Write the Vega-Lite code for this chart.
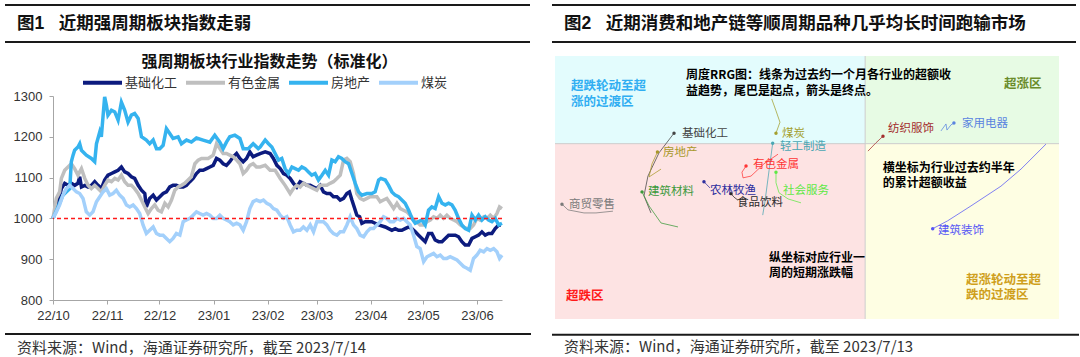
{
  "$schema": "https://vega.github.io/schema/vega-lite/v6.json",
  "background": "white",
  "padding": {"left": 4, "top": 4, "right": 0, "bottom": 0},
  "config": {"view": {"stroke": null}, "font": "Liberation Sans"},
  "resolve": {"scale": {"color": "independent"}, "legend": {"color": "independent"}},
  "datasets": {
    "idx": [
      {"s":"基础化工","d":0,"v":1000},{"s":"基础化工","d":2.9,"v":1037},{"s":"基础化工","d":4.8,"v":1073},{"s":"基础化工","d":6.7,"v":1086},{"s":"基础化工","d":8.6,"v":1081},{"s":"基础化工","d":10.5,"v":1086},{"s":"基础化工","d":12.4,"v":1081},{"s":"基础化工","d":14.3,"v":1086},{"s":"基础化工","d":15.3,"v":1102},{"s":"基础化工","d":16.3,"v":1077},{"s":"基础化工","d":18.2,"v":1081},{"s":"基础化工","d":20.1,"v":1077},{"s":"基础化工","d":22,"v":1081},{"s":"基础化工","d":23.9,"v":1090},{"s":"基础化工","d":25.8,"v":1081},{"s":"基础化工","d":27.7,"v":1073},{"s":"基础化工","d":29.6,"v":1094},{"s":"基础化工","d":31.5,"v":1106},{"s":"基础化工","d":33.5,"v":1110},{"s":"基础化工","d":35.4,"v":1114},{"s":"基础化工","d":37.3,"v":1118},{"s":"基础化工","d":39.2,"v":1126},{"s":"基础化工","d":41.1,"v":1114},{"s":"基础化工","d":43,"v":1110},{"s":"基础化工","d":44.9,"v":1102},{"s":"基础化工","d":46.8,"v":1098},{"s":"基础化工","d":48.8,"v":1081},{"s":"基础化工","d":50.7,"v":1069},{"s":"基础化工","d":52.6,"v":1061},{"s":"基础化工","d":53.5,"v":1028},{"s":"基础化工","d":55.4,"v":1049},{"s":"基础化工","d":57.4,"v":1057},{"s":"基础化工","d":59.3,"v":1045},{"s":"基础化工","d":61.2,"v":1053},{"s":"基础化工","d":63.1,"v":1061},{"s":"基础化工","d":65,"v":1065},{"s":"基础化工","d":66.9,"v":1077},{"s":"基础化工","d":68.8,"v":1081},{"s":"基础化工","d":70.7,"v":1081},{"s":"基础化工","d":72.7,"v":1077},{"s":"基础化工","d":74.6,"v":1077},{"s":"基础化工","d":76.5,"v":1081},{"s":"基础化工","d":78.4,"v":1090},{"s":"基础化工","d":80.3,"v":1098},{"s":"基础化工","d":82.2,"v":1110},{"s":"基础化工","d":84.1,"v":1118},{"s":"基础化工","d":86,"v":1118},{"s":"基础化工","d":88,"v":1122},{"s":"基础化工","d":89.9,"v":1126},{"s":"基础化工","d":91.8,"v":1130},{"s":"基础化工","d":93.7,"v":1147},{"s":"基础化工","d":95.6,"v":1143},{"s":"基础化工","d":97.5,"v":1134},{"s":"基础化工","d":99.4,"v":1130},{"s":"基础化工","d":101.3,"v":1139},{"s":"基础化工","d":103.3,"v":1151},{"s":"基础化工","d":105.2,"v":1159},{"s":"基础化工","d":107.1,"v":1147},{"s":"基础化工","d":109,"v":1139},{"s":"基础化工","d":110.9,"v":1147},{"s":"基础化工","d":112.8,"v":1163},{"s":"基础化工","d":114.7,"v":1151},{"s":"基础化工","d":116.6,"v":1155},{"s":"基础化工","d":118.7,"v":1159},{"s":"基础化工","d":121.6,"v":1163},{"s":"基础化工","d":124.4,"v":1159},{"s":"基础化工","d":126.3,"v":1147},{"s":"基础化工","d":128.3,"v":1130},{"s":"基础化工","d":130.2,"v":1122},{"s":"基础化工","d":132.1,"v":1110},{"s":"基础化工","d":134,"v":1106},{"s":"基础化工","d":135.9,"v":1098},{"s":"基础化工","d":137.8,"v":1086},{"s":"基础化工","d":139.7,"v":1077},{"s":"基础化工","d":141.6,"v":1090},{"s":"基础化工","d":143.5,"v":1086},{"s":"基础化工","d":145.5,"v":1081},{"s":"基础化工","d":147.4,"v":1081},{"s":"基础化工","d":149.3,"v":1077},{"s":"基础化工","d":151.2,"v":1073},{"s":"基础化工","d":153.1,"v":1081},{"s":"基础化工","d":155,"v":1065},{"s":"基础化工","d":156.9,"v":1061},{"s":"基础化工","d":158.8,"v":1061},{"s":"基础化工","d":160.7,"v":1053},{"s":"基础化工","d":162.7,"v":1053},{"s":"基础化工","d":164.6,"v":1045},{"s":"基础化工","d":166.5,"v":1049},{"s":"基础化工","d":168.4,"v":1061},{"s":"基础化工","d":169.9,"v":1065},{"s":"基础化工","d":171.3,"v":1045},{"s":"基础化工","d":172.6,"v":1028},{"s":"基础化工","d":174.1,"v":1008},{"s":"基础化工","d":175.7,"v":1004},{"s":"基础化工","d":177,"v":988},{"s":"基础化工","d":178.9,"v":992},{"s":"基础化工","d":180.8,"v":992},{"s":"基础化工","d":182.7,"v":992},{"s":"基础化工","d":184.6,"v":988},{"s":"基础化工","d":186.6,"v":984},{"s":"基础化工","d":190.4,"v":979},{"s":"基础化工","d":192.3,"v":975},{"s":"基础化工","d":194.2,"v":971},{"s":"基础化工","d":196.1,"v":975},{"s":"基础化工","d":198,"v":971},{"s":"基础化工","d":199.9,"v":971},{"s":"基础化工","d":201.8,"v":975},{"s":"基础化工","d":203.8,"v":979},{"s":"基础化工","d":205.7,"v":975},{"s":"基础化工","d":207.6,"v":967},{"s":"基础化工","d":209.5,"v":959},{"s":"基础化工","d":211.4,"v":951},{"s":"基础化工","d":213.3,"v":943},{"s":"基础化工","d":215.2,"v":963},{"s":"基础化工","d":217.1,"v":963},{"s":"基础化工","d":219,"v":947},{"s":"基础化工","d":221,"v":943},{"s":"基础化工","d":222.9,"v":943},{"s":"基础化工","d":224.8,"v":951},{"s":"基础化工","d":226.7,"v":959},{"s":"基础化工","d":228.6,"v":959},{"s":"基础化工","d":230.5,"v":959},{"s":"基础化工","d":232.4,"v":955},{"s":"基础化工","d":234.3,"v":943},{"s":"基础化工","d":236.2,"v":935},{"s":"基础化工","d":238.2,"v":935},{"s":"基础化工","d":240.1,"v":951},{"s":"基础化工","d":242,"v":955},{"s":"基础化工","d":243.9,"v":959},{"s":"基础化工","d":245.8,"v":967},{"s":"基础化工","d":247.7,"v":959},{"s":"基础化工","d":249.6,"v":963},{"s":"基础化工","d":251.5,"v":963},{"s":"基础化工","d":253.4,"v":975},{"s":"基础化工","d":255.4,"v":984},{"s":"基础化工","d":256.7,"v":984},
      {"s":"有色金属","d":0,"v":1000},{"s":"有色金属","d":1.9,"v":1049},{"s":"有色金属","d":3.8,"v":1065},{"s":"有色金属","d":4.8,"v":1098},{"s":"有色金属","d":6.7,"v":1118},{"s":"有色金属","d":8.6,"v":1126},{"s":"有色金属","d":10.5,"v":1134},{"s":"有色金属","d":12.4,"v":1122},{"s":"有色金属","d":14.3,"v":1106},{"s":"有色金属","d":16.3,"v":1122},{"s":"有色金属","d":18.2,"v":1098},{"s":"有色金属","d":20.1,"v":1081},{"s":"有色金属","d":22,"v":1073},{"s":"有色金属","d":23.9,"v":1081},{"s":"有色金属","d":25.8,"v":1073},{"s":"有色金属","d":27.7,"v":1065},{"s":"有色金属","d":29.6,"v":1081},{"s":"有色金属","d":31.5,"v":1094},{"s":"有色金属","d":33.5,"v":1090},{"s":"有色金属","d":35.4,"v":1098},{"s":"有色金属","d":37.3,"v":1094},{"s":"有色金属","d":39.2,"v":1106},{"s":"有色金属","d":41.1,"v":1090},{"s":"有色金属","d":43,"v":1081},{"s":"有色金属","d":44.9,"v":1081},{"s":"有色金属","d":46.8,"v":1073},{"s":"有色金属","d":48.8,"v":1061},{"s":"有色金属","d":50.7,"v":1045},{"s":"有色金属","d":52.6,"v":1028},{"s":"有色金属","d":54.5,"v":1012},{"s":"有色金属","d":56.4,"v":1024},{"s":"有色金属","d":58.3,"v":1033},{"s":"有色金属","d":60.2,"v":1020},{"s":"有色金属","d":62.1,"v":1016},{"s":"有色金属","d":64.1,"v":1037},{"s":"有色金属","d":66,"v":1028},{"s":"有色金属","d":67.9,"v":1045},{"s":"有色金属","d":69.8,"v":1069},{"s":"有色金属","d":71.7,"v":1077},{"s":"有色金属","d":73.6,"v":1081},{"s":"有色金属","d":75.5,"v":1086},{"s":"有色金属","d":77.4,"v":1094},{"s":"有色金属","d":79.3,"v":1102},{"s":"有色金属","d":81.3,"v":1134},{"s":"有色金属","d":83.2,"v":1143},{"s":"有色金属","d":85.1,"v":1147},{"s":"有色金属","d":87,"v":1147},{"s":"有色金属","d":88.9,"v":1147},{"s":"有色金属","d":91.8,"v":1155},{"s":"有色金属","d":93.7,"v":1183},{"s":"有色金属","d":95.6,"v":1171},{"s":"有色金属","d":97.5,"v":1159},{"s":"有色金属","d":99.4,"v":1159},{"s":"有色金属","d":101.3,"v":1155},{"s":"有色金属","d":103.3,"v":1151},{"s":"有色金属","d":105.2,"v":1143},{"s":"有色金属","d":107.1,"v":1134},{"s":"有色金属","d":109,"v":1110},{"s":"有色金属","d":110.9,"v":1118},{"s":"有色金属","d":112.8,"v":1130},{"s":"有色金属","d":114.7,"v":1134},{"s":"有色金属","d":116.6,"v":1126},{"s":"有色金属","d":118.7,"v":1126},{"s":"有色金属","d":121.6,"v":1130},{"s":"有色金属","d":124.4,"v":1118},{"s":"有色金属","d":127.3,"v":1118},{"s":"有色金属","d":130.2,"v":1098},{"s":"有色金属","d":133,"v":1081},{"s":"有色金属","d":135.9,"v":1061},{"s":"有色金属","d":137.8,"v":1073},{"s":"有色金属","d":139.7,"v":1081},{"s":"有色金属","d":141.6,"v":1077},{"s":"有色金属","d":143.5,"v":1086},{"s":"有色金属","d":145.5,"v":1081},{"s":"有色金属","d":147.4,"v":1077},{"s":"有色金属","d":149.3,"v":1073},{"s":"有色金属","d":151.2,"v":1069},{"s":"有色金属","d":153.1,"v":1081},{"s":"有色金属","d":155,"v":1081},{"s":"有色金属","d":156.9,"v":1081},{"s":"有色金属","d":158.8,"v":1086},{"s":"有色金属","d":160.7,"v":1090},{"s":"有色金属","d":162.7,"v":1098},{"s":"有色金属","d":164.6,"v":1106},{"s":"有色金属","d":166.5,"v":1143},{"s":"有色金属","d":168.4,"v":1147},{"s":"有色金属","d":170.3,"v":1139},{"s":"有色金属","d":172.2,"v":1110},{"s":"有色金属","d":174.1,"v":1061},{"s":"有色金属","d":176,"v":1049},{"s":"有色金属","d":178,"v":1045},{"s":"有色金属","d":179.9,"v":1049},{"s":"有色金属","d":181.8,"v":1053},{"s":"有色金属","d":183.7,"v":1053},{"s":"有色金属","d":185.6,"v":1053},{"s":"有色金属","d":187.5,"v":1041},{"s":"有色金属","d":189.4,"v":1045},{"s":"有色金属","d":191.3,"v":1049},{"s":"有色金属","d":193.2,"v":1037},{"s":"有色金属","d":195.2,"v":1024},{"s":"有色金属","d":197.1,"v":1037},{"s":"有色金属","d":199,"v":1024},{"s":"有色金属","d":200.9,"v":1020},{"s":"有色金属","d":202.8,"v":1016},{"s":"有色金属","d":204.7,"v":1008},{"s":"有色金属","d":206.6,"v":996},{"s":"有色金属","d":208.5,"v":992},{"s":"有色金属","d":210.4,"v":984},{"s":"有色金属","d":212.4,"v":984},{"s":"有色金属","d":214.3,"v":992},{"s":"有色金属","d":216.2,"v":996},{"s":"有色金属","d":218.1,"v":1004},{"s":"有色金属","d":220,"v":1000},{"s":"有色金属","d":221.9,"v":1008},{"s":"有色金属","d":223.8,"v":1000},{"s":"有色金属","d":225.7,"v":1008},{"s":"有色金属","d":227.6,"v":1000},{"s":"有色金属","d":229.6,"v":996},{"s":"有色金属","d":231.5,"v":992},{"s":"有色金属","d":233.4,"v":984},{"s":"有色金属","d":235.3,"v":979},{"s":"有色金属","d":237.2,"v":975},{"s":"有色金属","d":239.1,"v":975},{"s":"有色金属","d":241,"v":984},{"s":"有色金属","d":242.9,"v":1000},{"s":"有色金属","d":244.8,"v":996},{"s":"有色金属","d":246.8,"v":1004},{"s":"有色金属","d":248.7,"v":1000},{"s":"有色金属","d":250.6,"v":1008},{"s":"有色金属","d":252.5,"v":1000},{"s":"有色金属","d":254.4,"v":1012},{"s":"有色金属","d":255.9,"v":1028},{"s":"有色金属","d":257.3,"v":1024},
      {"s":"房地产","d":0,"v":1000},{"s":"房地产","d":2.9,"v":1028},{"s":"房地产","d":5.7,"v":1057},{"s":"房地产","d":7.6,"v":1065},{"s":"房地产","d":9.6,"v":1073},{"s":"房地产","d":10.5,"v":1139},{"s":"房地产","d":11.5,"v":1155},{"s":"房地产","d":12.4,"v":1167},{"s":"房地产","d":14.3,"v":1175},{"s":"房地产","d":15.3,"v":1183},{"s":"房地产","d":16.3,"v":1167},{"s":"房地产","d":19.1,"v":1155},{"s":"房地产","d":22,"v":1147},{"s":"房地产","d":23.9,"v":1139},{"s":"房地产","d":24.9,"v":1183},{"s":"房地产","d":26.8,"v":1212},{"s":"房地产","d":27.7,"v":1200},{"s":"房地产","d":29.6,"v":1298},{"s":"房地产","d":30.6,"v":1277},{"s":"房地产","d":31.5,"v":1253},{"s":"房地产","d":33.5,"v":1265},{"s":"房地产","d":35.4,"v":1261},{"s":"房地产","d":37.3,"v":1241},{"s":"房地产","d":39.2,"v":1285},{"s":"房地产","d":41.1,"v":1265},{"s":"房地产","d":43,"v":1236},{"s":"房地产","d":44.9,"v":1253},{"s":"房地产","d":46.8,"v":1257},{"s":"房地产","d":48.8,"v":1245},{"s":"房地产","d":50.7,"v":1200},{"s":"房地产","d":53.5,"v":1192},{"s":"房地产","d":55.4,"v":1183},{"s":"房地产","d":57.4,"v":1192},{"s":"房地产","d":59.3,"v":1171},{"s":"房地产","d":61.2,"v":1171},{"s":"房地产","d":63.1,"v":1179},{"s":"房地产","d":65,"v":1220},{"s":"房地产","d":66.9,"v":1208},{"s":"房地产","d":68.8,"v":1196},{"s":"房地产","d":71.7,"v":1200},{"s":"房地产","d":73.6,"v":1183},{"s":"房地产","d":76.5,"v":1192},{"s":"房地产","d":79.3,"v":1187},{"s":"房地产","d":82.2,"v":1197},{"s":"房地产","d":86,"v":1192},{"s":"房地产","d":89.9,"v":1187},{"s":"房地产","d":92.7,"v":1204},{"s":"房地产","d":95.6,"v":1187},{"s":"房地产","d":97.5,"v":1171},{"s":"房地产","d":99.4,"v":1187},{"s":"房地产","d":101.3,"v":1200},{"s":"房地产","d":104.2,"v":1204},{"s":"房地产","d":107.1,"v":1196},{"s":"房地产","d":109,"v":1171},{"s":"房地产","d":111.9,"v":1171},{"s":"房地产","d":114.7,"v":1183},{"s":"房地产","d":117.6,"v":1171},{"s":"房地产","d":118.7,"v":1175},{"s":"房地产","d":121.6,"v":1192},{"s":"房地产","d":123.5,"v":1183},{"s":"房地产","d":125.4,"v":1175},{"s":"房地产","d":127.3,"v":1159},{"s":"房地产","d":129.2,"v":1143},{"s":"房地产","d":131.1,"v":1147},{"s":"房地产","d":133,"v":1122},{"s":"房地产","d":134.9,"v":1110},{"s":"房地产","d":136.9,"v":1126},{"s":"房地产","d":138.8,"v":1122},{"s":"房地产","d":140.7,"v":1118},{"s":"房地产","d":142.6,"v":1126},{"s":"房地产","d":144.5,"v":1122},{"s":"房地产","d":146.4,"v":1114},{"s":"房地产","d":148.3,"v":1106},{"s":"房地产","d":150.2,"v":1110},{"s":"房地产","d":152.1,"v":1094},{"s":"房地产","d":154.1,"v":1106},{"s":"房地产","d":156,"v":1118},{"s":"房地产","d":157.9,"v":1106},{"s":"房地产","d":159.8,"v":1143},{"s":"房地产","d":161.7,"v":1139},{"s":"房地产","d":163.6,"v":1151},{"s":"房地产","d":165.5,"v":1147},{"s":"房地产","d":167.4,"v":1139},{"s":"房地产","d":169.4,"v":1134},{"s":"房地产","d":171.3,"v":1110},{"s":"房地产","d":173.2,"v":1086},{"s":"房地产","d":175.1,"v":1065},{"s":"房地产","d":177,"v":1057},{"s":"房地产","d":179.9,"v":1061},{"s":"房地产","d":182.7,"v":1061},{"s":"房地产","d":184.6,"v":1065},{"s":"房地产","d":186.6,"v":1094},{"s":"房地产","d":187.9,"v":1098},{"s":"房地产","d":190.4,"v":1094},{"s":"房地产","d":192.3,"v":1081},{"s":"房地产","d":194.2,"v":1065},{"s":"房地产","d":196.1,"v":1057},{"s":"房地产","d":198,"v":1053},{"s":"房地产","d":199.9,"v":1045},{"s":"房地产","d":201.8,"v":1037},{"s":"房地产","d":203.8,"v":1020},{"s":"房地产","d":205.7,"v":1000},{"s":"房地产","d":207.6,"v":988},{"s":"房地产","d":209.5,"v":992},{"s":"房地产","d":211.4,"v":996},{"s":"房地产","d":213.3,"v":984},{"s":"房地产","d":215.2,"v":1020},{"s":"房地产","d":217.1,"v":1028},{"s":"房地产","d":219,"v":1024},{"s":"房地产","d":221,"v":1053},{"s":"房地产","d":222.9,"v":1037},{"s":"房地产","d":224.8,"v":1033},{"s":"房地产","d":226.7,"v":1037},{"s":"房地产","d":228.6,"v":1033},{"s":"房地产","d":230.5,"v":1020},{"s":"房地产","d":232.4,"v":1000},{"s":"房地产","d":234.3,"v":984},{"s":"房地产","d":236.2,"v":975},{"s":"房地产","d":238.2,"v":971},{"s":"房地产","d":240.1,"v":1008},{"s":"房地产","d":242,"v":996},{"s":"房地产","d":243.9,"v":1008},{"s":"房地产","d":245.8,"v":996},{"s":"房地产","d":247.7,"v":1004},{"s":"房地产","d":249.6,"v":996},{"s":"房地产","d":251.5,"v":992},{"s":"房地产","d":253.4,"v":1000},{"s":"房地产","d":255.4,"v":984},{"s":"房地产","d":257.3,"v":988},
      {"s":"煤炭","d":0,"v":1000},{"s":"煤炭","d":1.9,"v":1016},{"s":"煤炭","d":3.8,"v":1033},{"s":"煤炭","d":5.7,"v":1057},{"s":"煤炭","d":7.6,"v":1073},{"s":"煤炭","d":9.6,"v":1081},{"s":"煤炭","d":11.5,"v":1073},{"s":"煤炭","d":13.4,"v":1065},{"s":"煤炭","d":15.3,"v":1061},{"s":"煤炭","d":17.2,"v":1049},{"s":"煤炭","d":19.1,"v":1016},{"s":"煤炭","d":21,"v":1008},{"s":"煤炭","d":22.9,"v":1016},{"s":"煤炭","d":24.9,"v":1041},{"s":"煤炭","d":26.8,"v":1053},{"s":"煤炭","d":28.7,"v":1065},{"s":"煤炭","d":30.6,"v":1073},{"s":"煤炭","d":32.5,"v":1057},{"s":"煤炭","d":34.4,"v":1061},{"s":"煤炭","d":36.3,"v":1069},{"s":"煤炭","d":38.2,"v":1057},{"s":"煤炭","d":40.2,"v":1049},{"s":"煤炭","d":42.1,"v":1033},{"s":"煤炭","d":44,"v":1028},{"s":"煤炭","d":45.9,"v":1033},{"s":"煤炭","d":47.8,"v":1024},{"s":"煤炭","d":49.7,"v":1012},{"s":"煤炭","d":51.6,"v":984},{"s":"煤炭","d":53.5,"v":963},{"s":"煤炭","d":55.4,"v":971},{"s":"煤炭","d":57.4,"v":979},{"s":"煤炭","d":59.3,"v":963},{"s":"煤炭","d":61.2,"v":959},{"s":"煤炭","d":63.1,"v":959},{"s":"煤炭","d":65,"v":951},{"s":"煤炭","d":66.9,"v":943},{"s":"煤炭","d":68.8,"v":951},{"s":"煤炭","d":70.7,"v":963},{"s":"煤炭","d":72.7,"v":959},{"s":"煤炭","d":74.6,"v":992},{"s":"煤炭","d":76.5,"v":996},{"s":"煤炭","d":78.4,"v":1000},{"s":"煤炭","d":80.3,"v":1008},{"s":"煤炭","d":82.2,"v":1016},{"s":"煤炭","d":84.1,"v":1012},{"s":"煤炭","d":86,"v":1008},{"s":"煤炭","d":88,"v":1012},{"s":"煤炭","d":89.9,"v":1008},{"s":"煤炭","d":91.8,"v":1000},{"s":"煤炭","d":93.7,"v":1000},{"s":"煤炭","d":95.6,"v":1008},{"s":"煤炭","d":97.5,"v":1000},{"s":"煤炭","d":99.4,"v":996},{"s":"煤炭","d":101.3,"v":992},{"s":"煤炭","d":103.3,"v":984},{"s":"煤炭","d":105.2,"v":988},{"s":"煤炭","d":107.1,"v":984},{"s":"煤炭","d":109,"v":971},{"s":"煤炭","d":110.9,"v":992},{"s":"煤炭","d":112.8,"v":1024},{"s":"煤炭","d":114.7,"v":1041},{"s":"煤炭","d":116.6,"v":1045},{"s":"煤炭","d":118.7,"v":1041},{"s":"煤炭","d":120.6,"v":1045},{"s":"煤炭","d":122.5,"v":1037},{"s":"煤炭","d":124.4,"v":1033},{"s":"煤炭","d":126.3,"v":1024},{"s":"煤炭","d":128.3,"v":1020},{"s":"煤炭","d":130.2,"v":1008},{"s":"煤炭","d":132.1,"v":1000},{"s":"煤炭","d":134,"v":1004},{"s":"煤炭","d":135.9,"v":984},{"s":"煤炭","d":137.8,"v":967},{"s":"煤炭","d":139.7,"v":971},{"s":"煤炭","d":141.6,"v":971},{"s":"煤炭","d":143.5,"v":979},{"s":"煤炭","d":145.5,"v":971},{"s":"煤炭","d":147.4,"v":984},{"s":"煤炭","d":149.3,"v":967},{"s":"煤炭","d":151.2,"v":992},{"s":"煤炭","d":153.1,"v":992},{"s":"煤炭","d":155,"v":992},{"s":"煤炭","d":156.9,"v":984},{"s":"煤炭","d":158.8,"v":971},{"s":"煤炭","d":160.7,"v":963},{"s":"煤炭","d":162.7,"v":959},{"s":"煤炭","d":164.6,"v":967},{"s":"煤炭","d":166.5,"v":967},{"s":"煤炭","d":168.4,"v":984},{"s":"煤炭","d":170.3,"v":1004},{"s":"煤炭","d":172.2,"v":984},{"s":"煤炭","d":174.1,"v":975},{"s":"煤炭","d":176,"v":959},{"s":"煤炭","d":178,"v":955},{"s":"煤炭","d":179.9,"v":967},{"s":"煤炭","d":181.8,"v":975},{"s":"煤炭","d":183.7,"v":975},{"s":"煤炭","d":185.6,"v":984},{"s":"煤炭","d":187.5,"v":992},{"s":"煤炭","d":189.4,"v":1004},{"s":"煤炭","d":191.3,"v":1000},{"s":"煤炭","d":193.2,"v":992},{"s":"煤炭","d":195.2,"v":992},{"s":"煤炭","d":197.1,"v":1000},{"s":"煤炭","d":199,"v":996},{"s":"煤炭","d":200.9,"v":1000},{"s":"煤炭","d":202.8,"v":992},{"s":"煤炭","d":204.7,"v":984},{"s":"煤炭","d":206.6,"v":959},{"s":"煤炭","d":208.5,"v":931},{"s":"煤炭","d":210.4,"v":926},{"s":"煤炭","d":212.4,"v":894},{"s":"煤炭","d":214.3,"v":906},{"s":"煤炭","d":216.2,"v":910},{"s":"煤炭","d":218.1,"v":914},{"s":"煤炭","d":220,"v":906},{"s":"煤炭","d":221.9,"v":910},{"s":"煤炭","d":223.8,"v":902},{"s":"煤炭","d":225.7,"v":902},{"s":"煤炭","d":227.6,"v":906},{"s":"煤炭","d":229.6,"v":902},{"s":"煤炭","d":231.5,"v":898},{"s":"煤炭","d":233.4,"v":890},{"s":"煤炭","d":235.3,"v":882},{"s":"煤炭","d":237.2,"v":878},{"s":"煤炭","d":239.1,"v":873},{"s":"煤炭","d":241,"v":902},{"s":"煤炭","d":242.9,"v":910},{"s":"煤炭","d":244.8,"v":922},{"s":"煤炭","d":246.8,"v":918},{"s":"煤炭","d":248.7,"v":926},{"s":"煤炭","d":250.6,"v":922},{"s":"煤炭","d":252.5,"v":926},{"s":"煤炭","d":254.4,"v":918},{"s":"煤炭","d":255.9,"v":902},{"s":"煤炭","d":257.3,"v":910}
    ],
    "tails": [
      {"ind":"基础化工","k":1,"x":-22.1,"y":-1.58},{"ind":"基础化工","k":2,"x":-22.82,"y":-1.19},{"ind":"基础化工","k":3,"x":-22.41,"y":-0.74},{"ind":"基础化工","k":4,"x":-21.27,"y":-0.21},{"ind":"基础化工","k":5,"x":-19.72,"y":0.24},
      {"ind":"房地产","k":1,"x":-21.06,"y":-0.58},{"ind":"房地产","k":2,"x":-22.3,"y":-0.76},{"ind":"房地产","k":3,"x":-21.99,"y":-0.46},{"ind":"房地产","k":4,"x":-21.43,"y":-0.19},
      {"ind":"建筑材料","k":1,"x":-19.31,"y":-1.9},{"ind":"建筑材料","k":2,"x":-21.06,"y":-1.81},{"ind":"建筑材料","k":3,"x":-22.3,"y":-1.42},{"ind":"建筑材料","k":4,"x":-23.02,"y":-1.1},
      {"ind":"商贸零售","k":1,"x":-26.02,"y":-1.54},{"ind":"商贸零售","k":2,"x":-27.77,"y":-1.58},{"ind":"商贸零售","k":3,"x":-29.01,"y":-1.58},{"ind":"商贸零售","k":4,"x":-30.66,"y":-1.51},{"ind":"商贸零售","k":5,"x":-31.28,"y":-1.38},
      {"ind":"农林牧渔","k":1,"x":-16.01,"y":-1.01},{"ind":"农林牧渔","k":2,"x":-16.32,"y":-0.94},{"ind":"农林牧渔","k":3,"x":-16.63,"y":-0.87},
      {"ind":"食品饮料","k":1,"x":-13.12,"y":-1.29},{"ind":"食品饮料","k":2,"x":-13.53,"y":-1.22},{"ind":"食品饮料","k":3,"x":-13.84,"y":-1.14},
      {"ind":"轻工制造","k":1,"x":-10.57,"y":-1.63},{"ind":"轻工制造","k":2,"x":-10.33,"y":-1.31},{"ind":"轻工制造","k":3,"x":-9.92,"y":-0.62},{"ind":"轻工制造","k":4,"x":-9.54,"y":0.01},
      {"ind":"煤炭","k":1,"x":-9.64,"y":1.02},{"ind":"煤炭","k":2,"x":-9.2,"y":0.75},{"ind":"煤炭","k":3,"x":-8.79,"y":0.49},{"ind":"煤炭","k":4,"x":-9.2,"y":0.24},
      {"ind":"有色金属","k":1,"x":-8.99,"y":-0.24},{"ind":"有色金属","k":2,"x":-10.44,"y":-0.46},{"ind":"有色金属","k":3,"x":-11.78,"y":-0.74},{"ind":"有色金属","k":4,"x":-12.6,"y":-0.78},{"ind":"有色金属","k":5,"x":-12.71,"y":-0.65},{"ind":"有色金属","k":6,"x":-12.29,"y":-0.51},
      {"ind":"社会服务","k":1,"x":-6.62,"y":-1.35},{"ind":"社会服务","k":2,"x":-7.96,"y":-1.26},{"ind":"社会服务","k":3,"x":-8.89,"y":-1.12},{"ind":"社会服务","k":4,"x":-9.2,"y":-0.89},{"ind":"社会服务","k":5,"x":-9.2,"y":-0.65},
      {"ind":"纺织服饰","k":1,"x":0.29,"y":-0.17},{"ind":"纺织服饰","k":2,"x":1.12,"y":0.02},{"ind":"纺织服饰","k":3,"x":1.84,"y":0.17},
      {"ind":"家用电器","k":1,"x":7.82,"y":0.29},{"ind":"家用电器","k":2,"x":8.34,"y":0.45},{"ind":"家用电器","k":3,"x":8.44,"y":0.31},{"ind":"家用电器","k":4,"x":8.86,"y":0.43},{"ind":"家用电器","k":5,"x":9.16,"y":0.47},
      {"ind":"建筑装饰","k":1,"x":18.66,"y":-0.01},{"ind":"建筑装饰","k":2,"x":16.08,"y":-0.58},{"ind":"建筑装饰","k":3,"x":14.01,"y":-0.97},{"ind":"建筑装饰","k":4,"x":10.92,"y":-1.42},{"ind":"建筑装饰","k":5,"x":8.51,"y":-1.76},{"ind":"建筑装饰","k":6,"x":6.97,"y":-1.94}
    ],
    "labels": [
      {"ind":"基础化工","x":-18.9,"y":0.21},{"ind":"房地产","x":-20.86,"y":-0.22},{"ind":"建筑材料","x":-22.41,"y":-1.11},{"ind":"商贸零售","x":-30.56,"y":-1.39},{"ind":"农林牧渔","x":-16.01,"y":-1.09},{"ind":"食品饮料","x":-13.22,"y":-1.35},{"ind":"轻工制造","x":-8.79,"y":-0.08},{"ind":"煤炭","x":-8.58,"y":0.21},{"ind":"有色金属","x":-11.57,"y":-0.49},{"ind":"社会服务","x":-8.48,"y":-1.09},{"ind":"纺织服饰","x":2.36,"y":0.33},{"ind":"家用电器","x":9.99,"y":0.45},{"ind":"建筑装饰","x":7.51,"y":-1.99}
    ]
  },
  "spacing": 18,
  "hconcat": [
    {
      "columns": 1,
      "align": "none",
      "spacing": 11,
      "resolve": {"scale": {"color": "independent"}, "legend": {"color": "independent"}},
      "concat": [
        {
          "width": 477, "height": 37,
          "layer": [
            {"data": {"values": [{}]}, "mark": {"type": "rule", "color": "#1a1a1a", "strokeWidth": 2}, "encoding": {"x": {"datum": -0.1006, "type": "quantitative", "scale": {"domain": [0, 1]}, "axis": null}, "x2": {"datum": 1}, "y": {"datum": 1, "type": "quantitative", "scale": {"domain": [0, 1]}, "axis": null}}},
            {"data": {"values": [{}]}, "mark": {"type": "rule", "color": "#1a1a1a", "strokeWidth": 2}, "encoding": {"x": {"datum": -0.1006, "type": "quantitative", "axis": null}, "x2": {"datum": 1}, "y": {"datum": 0, "type": "quantitative", "axis": null}}},
            {"data": {"values": [{"t": "图1\u00a0\u00a0\u00a0近期强周期板块指数走弱"}]}, "mark": {"type": "text", "align": "left", "baseline": "middle", "fontSize": 17.5, "fontWeight": "bold", "font": "Liberation Sans, Noto Sans CJK SC", "color": "#111111"}, "encoding": {"x": {"datum": -0.0755, "type": "quantitative", "axis": null}, "y": {"datum": 0.5, "type": "quantitative", "axis": null}, "text": {"field": "t"}}}
          ]
        },
        {
          "width": 449, "height": 204,
          "title": {"text": "强周期板块行业指数走势（标准化）", "font": "Noto Sans CJK SC", "fontSize": 16, "fontWeight": "bold", "color": "#111111", "anchor": "middle", "frame": "group", "dx": -8, "offset": -9},
          "layer": [
            {
              "data": {"name": "idx"},
              "mark": {"type": "line", "strokeWidth": 3.5},
              "encoding": {
                "x": {"field": "d", "type": "quantitative", "scale": {"domain": [0, 257.3], "nice": false, "zero": false},
                      "axis": {"values": [0, 31, 61, 92, 123, 151, 182, 212, 243], "labelExpr": "['22/10','22/11','22/12','23/01','23/02','23/03','23/04','23/05','23/06'][indexof([0,31,61,92,123,151,182,212,243], datum.value)]", "tickSize": 4, "labelPadding": 5, "domainColor": "#a6a6a6", "tickColor": "#a6a6a6", "labelFontSize": 13, "labelColor": "#333333", "labelFont": "Liberation Sans", "grid": false, "title": null, "labelFlush": false, "labelOverlap": false}},
                "y": {"field": "v", "type": "quantitative", "scale": {"domain": [800, 1300], "nice": false, "zero": false},
                      "axis": {"values": [800, 900, 1000, 1100, 1200, 1300], "format": "d", "tickSize": 4, "labelPadding": 7, "domainColor": "#a6a6a6", "tickColor": "#a6a6a6", "labelFontSize": 13, "labelColor": "#333333", "labelFont": "Liberation Sans", "grid": false, "title": null, "minExtent": 49, "maxExtent": 49}},
                "color": {"field": "s", "type": "nominal", "sort": null,
                          "scale": {"domain": ["基础化工", "有色金属", "房地产", "煤炭"], "range": ["#0c1b7e", "#bfbfbf", "#35b3ef", "#a3d0fb"]},
                          "legend": {"orient": "none", "legendX": 28, "legendY": -35, "direction": "horizontal", "columns": 4, "title": null, "symbolType": "stroke", "symbolSize": 1521, "symbolStrokeWidth": 4, "labelFontSize": 13, "labelFont": "Noto Sans CJK SC", "labelColor": "#333333", "labelOffset": 1, "columnPadding": 0}}
              }
            },
            {
              "data": {"values": [{"v": 1000}]},
              "mark": {"type": "rule", "color": "#ff1a1a", "strokeDash": [4, 3], "strokeWidth": 1.5},
              "encoding": {"y": {"field": "v", "type": "quantitative"}}
            }
          ]
        },
        {
          "width": 478, "height": 26,
          "layer": [
            {"data": {"values": [{}]}, "mark": {"type": "rule", "color": "#1a1a1a", "strokeWidth": 2}, "encoding": {"x": {"datum": -0.1004, "type": "quantitative", "scale": {"domain": [0, 1]}, "axis": null}, "x2": {"datum": 1}, "y": {"datum": 1, "type": "quantitative", "scale": {"domain": [0, 1]}, "axis": null}}},
            {"data": {"values": [{"t": "资料来源：Wind，海通证券研究所，截至 2023/7/14"}]}, "mark": {"type": "text", "align": "left", "baseline": "middle", "fontSize": 15, "font": "Liberation Sans Narrow, Noto Sans CJK SC", "color": "#333333"}, "encoding": {"x": {"datum": -0.0753, "type": "quantitative", "axis": null}, "y": {"datum": 0.45, "type": "quantitative", "axis": null}, "text": {"field": "t"}}}
          ]
        }
      ]
    },
    {
      "columns": 1,
      "align": "none",
      "spacing": 12,
      "resolve": {"scale": {"color": "independent"}, "legend": {"color": "independent"}},
      "concat": [
        {
          "width": 521, "height": 37,
          "layer": [
            {"data": {"values": [{}]}, "mark": {"type": "rule", "color": "#1a1a1a", "strokeWidth": 2}, "encoding": {"x": {"datum": -0.00576, "type": "quantitative", "scale": {"domain": [0, 1]}, "axis": null}, "x2": {"datum": 1}, "y": {"datum": 1, "type": "quantitative", "scale": {"domain": [0, 1]}, "axis": null}}},
            {"data": {"values": [{}]}, "mark": {"type": "rule", "color": "#1a1a1a", "strokeWidth": 2}, "encoding": {"x": {"datum": -0.00576, "type": "quantitative", "axis": null}, "x2": {"datum": 1}, "y": {"datum": 0, "type": "quantitative", "axis": null}}},
            {"data": {"values": [{"t": "图2\u00a0\u00a0\u00a0近期消费和地产链等顺周期品种几乎均长时间跑输市场"}]}, "mark": {"type": "text", "align": "left", "baseline": "middle", "fontSize": 17.5, "fontWeight": "bold", "font": "Liberation Sans, Noto Sans CJK SC", "color": "#111111"}, "encoding": {"x": {"datum": 0.0173, "type": "quantitative", "axis": null}, "y": {"datum": 0.5, "type": "quantitative", "axis": null}, "text": {"field": "t"}}}
          ]
        },
        {
          "width": 504, "height": 263,
          "layer": [
            {"data": {"values": [{}]}, "mark": {"type": "rect", "color": "#e3fcfd"}, "encoding": {"x": {"datum": -32, "type": "quantitative", "scale": {"domain": [-32, 20], "nice": false, "zero": false}, "axis": null}, "x2": {"datum": 0}, "y": {"datum": 0, "type": "quantitative", "scale": {"domain": [-4, 2], "nice": false, "zero": false}, "axis": null}, "y2": {"datum": 2}}},
            {"data": {"values": [{}]}, "mark": {"type": "rect", "color": "#e7fbe4"}, "encoding": {"x": {"datum": 0, "type": "quantitative", "axis": null}, "x2": {"datum": 20}, "y": {"datum": 0, "type": "quantitative", "axis": null}, "y2": {"datum": 2}}},
            {"data": {"values": [{}]}, "mark": {"type": "rect", "color": "#fde3e3"}, "encoding": {"x": {"datum": -32, "type": "quantitative", "axis": null}, "x2": {"datum": 0}, "y": {"datum": -4, "type": "quantitative", "axis": null}, "y2": {"datum": 0}}},
            {"data": {"values": [{}]}, "mark": {"type": "rect", "color": "#fefee3"}, "encoding": {"x": {"datum": 0, "type": "quantitative", "axis": null}, "x2": {"datum": 20}, "y": {"datum": -4, "type": "quantitative", "axis": null}, "y2": {"datum": 0}}},
            {"data": {"values": [{}]}, "mark": {"type": "rule", "color": "#cccccc", "strokeWidth": 1}, "encoding": {"x": {"datum": 0, "type": "quantitative", "axis": null}}},
            {"data": {"values": [{}]}, "mark": {"type": "rule", "color": "#cccccc", "strokeWidth": 1}, "encoding": {"y": {"datum": 0, "type": "quantitative", "axis": null}}},
            {
              "data": {"name": "tails"},
              "mark": {"type": "line", "strokeWidth": 1, "opacity": 0.75},
              "encoding": {
                "x": {"field": "x", "type": "quantitative", "axis": null},
                "y": {"field": "y", "type": "quantitative", "axis": null},
                "order": {"field": "k"},
                "color": {"field": "ind", "type": "nominal", "legend": null,
                          "scale": {"domain": ["基础化工", "房地产", "建筑材料", "商贸零售", "农林牧渔", "食品饮料", "轻工制造", "煤炭", "有色金属", "社会服务", "纺织服饰", "家用电器", "建筑装饰"],
                                    "range": ["#444444", "#a8982a", "#3a993a", "#7a7a7a", "#2e2e9e", "#2b2b2b", "#4aa6b3", "#a39f2e", "#ff3535", "#5fe845", "#a32e2e", "#5a84e0", "#5656f5"]}}
              }
            },
            {
              "data": {"name": "tails"},
              "transform": [{"joinaggregate": [{"op": "max", "field": "k", "as": "km"}], "groupby": ["ind"]}, {"filter": "datum.k == datum.km"}],
              "mark": {"type": "point", "filled": true, "size": 12, "opacity": 1},
              "encoding": {
                "x": {"field": "x", "type": "quantitative", "axis": null},
                "y": {"field": "y", "type": "quantitative", "axis": null},
                "color": {"field": "ind", "type": "nominal", "legend": null}
              }
            },
            {
              "data": {"name": "labels"},
              "mark": {"type": "text", "align": "left", "baseline": "middle", "fontSize": 11.5, "font": "Noto Sans CJK SC"},
              "encoding": {
                "x": {"field": "x", "type": "quantitative", "axis": null},
                "y": {"field": "y", "type": "quantitative", "axis": null},
                "text": {"field": "ind"},
                "color": {"field": "ind", "type": "nominal", "legend": null}
              }
            },
            {"data": {"values": [{"t": "周度RRG图：线条为过去约一个月各行业的超额收\n益趋势，尾巴是起点，箭头是终点。"}]}, "mark": {"type": "text", "align": "left", "baseline": "top", "lineBreak": "\n", "lineHeight": 16, "fontSize": 12, "fontWeight": "bold", "font": "Noto Sans CJK SC", "color": "#000000"}, "encoding": {"x": {"datum": -18.48, "type": "quantitative", "axis": null}, "y": {"datum": 1.685, "type": "quantitative", "axis": null}, "text": {"field": "t"}}},
            {"data": {"values": [{"t": "超跌轮动至超\n涨的过渡区"}]}, "mark": {"type": "text", "align": "left", "baseline": "top", "lineBreak": "\n", "lineHeight": 16.5, "fontSize": 12.5, "fontWeight": "bold", "font": "Noto Sans CJK SC", "color": "#30aef2"}, "encoding": {"x": {"datum": -30.35, "type": "quantitative", "axis": null}, "y": {"datum": 1.457, "type": "quantitative", "axis": null}, "text": {"field": "t"}}},
            {"data": {"values": [{"t": "超涨区"}]}, "mark": {"type": "text", "align": "left", "baseline": "top", "fontSize": 12.5, "fontWeight": "bold", "font": "Noto Sans CJK SC", "color": "#6a8c2a"}, "encoding": {"x": {"datum": 14.32, "type": "quantitative", "axis": null}, "y": {"datum": 1.494, "type": "quantitative", "axis": null}, "text": {"field": "t"}}},
            {"data": {"values": [{"t": "横坐标为行业过去约半年\n的累计超额收益"}]}, "mark": {"type": "text", "align": "left", "baseline": "top", "lineBreak": "\n", "lineHeight": 15, "fontSize": 12, "fontWeight": "bold", "font": "Noto Sans CJK SC", "color": "#000000"}, "encoding": {"x": {"datum": 1.81, "type": "quantitative", "axis": null}, "y": {"datum": -0.446, "type": "quantitative", "axis": null}, "text": {"field": "t"}}},
            {"data": {"values": [{"t": "纵坐标对应行业一\n周的短期涨跌幅"}]}, "mark": {"type": "text", "align": "left", "baseline": "top", "lineBreak": "\n", "lineHeight": 15, "fontSize": 12, "fontWeight": "bold", "font": "Noto Sans CJK SC", "color": "#000000"}, "encoding": {"x": {"datum": -9.92, "type": "quantitative", "axis": null}, "y": {"datum": -2.499, "type": "quantitative", "axis": null}, "text": {"field": "t"}}},
            {"data": {"values": [{"t": "超跌区"}]}, "mark": {"type": "text", "align": "left", "baseline": "top", "fontSize": 12.5, "fontWeight": "bold", "font": "Noto Sans CJK SC", "color": "#ff1a1a"}, "encoding": {"x": {"datum": -30.87, "type": "quantitative", "axis": null}, "y": {"datum": -3.334, "type": "quantitative", "axis": null}, "text": {"field": "t"}}},
            {"data": {"values": [{"t": "超涨轮动至超\n跌的过渡区"}]}, "mark": {"type": "text", "align": "left", "baseline": "top", "lineBreak": "\n", "lineHeight": 15.4, "fontSize": 12.5, "fontWeight": "bold", "font": "Noto Sans CJK SC", "color": "#cf9f1c"}, "encoding": {"x": {"datum": 10.4, "type": "quantitative", "axis": null}, "y": {"datum": -2.969, "type": "quantitative", "axis": null}, "text": {"field": "t"}}}
          ]
        },
        {
          "width": 524, "height": 26,
          "layer": [
            {"data": {"values": [{}]}, "mark": {"type": "rule", "color": "#1a1a1a", "strokeWidth": 2}, "encoding": {"x": {"datum": -0.00573, "type": "quantitative", "scale": {"domain": [0, 1]}, "axis": null}, "x2": {"datum": 1}, "y": {"datum": 0.89, "type": "quantitative", "scale": {"domain": [0, 1]}, "axis": null}}},
            {"data": {"values": [{"t": "资料来源：Wind，海通证券研究所，截至 2023/7/13"}]}, "mark": {"type": "text", "align": "left", "baseline": "middle", "fontSize": 15, "font": "Liberation Sans Narrow, Noto Sans CJK SC", "color": "#333333"}, "encoding": {"x": {"datum": 0.0172, "type": "quantitative", "axis": null}, "y": {"datum": 0.42, "type": "quantitative", "axis": null}, "text": {"field": "t"}}}
          ]
        }
      ]
    }
  ]
}
